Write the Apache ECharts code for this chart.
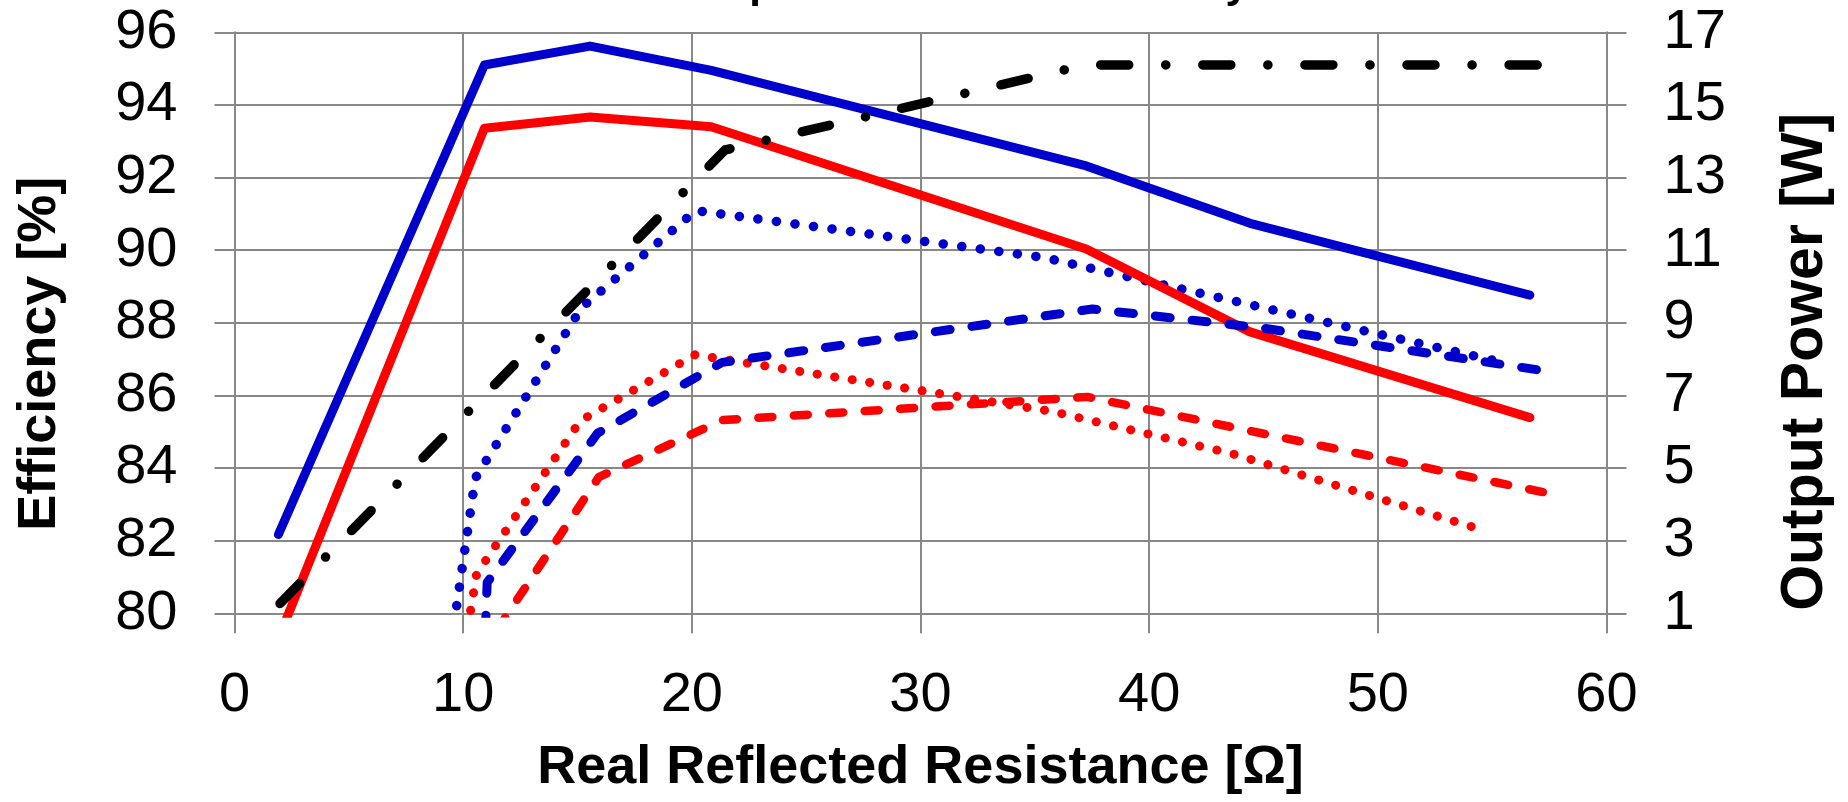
<!DOCTYPE html>
<html>
<head>
<meta charset="utf-8">
<script src="https://cdn.jsdelivr.net/npm/echarts@6/dist/echarts.min.js"></script>
<style>
  html, body { margin: 0; padding: 0; background: #fff; }
  #chart { width: 1848px; height: 802px; }
</style>
</head>
<body>
<div id="chart"></div>
<script>
// ---- data (x = Real Reflected Resistance [Ω], y = Efficiency [%] or Output Power [W]) ----
const blueSolid  = [[1.92, 82.17], [10.93, 95.10], [15.55, 95.62], [20.85, 94.95], [37.25, 92.32], [44.41, 90.74], [56.65, 88.76]];
const redSolid   = [[1.92, 79.30], [10.93, 93.36], [15.55, 93.67], [20.85, 93.40], [37.25, 90.03], [44.41, 87.75], [56.65, 85.39]];
const blueDotted = [[9.60, 79.70], [10.53, 83.72], [15.18, 88.42], [20.17, 91.09], [35.38, 89.80], [55.03, 86.97]];
const redDotted  = [[10.20, 79.60], [10.59, 81.09], [15.12, 85.30], [20.14, 87.12], [35.75, 85.56], [43.60, 84.40], [54.35, 82.34]];
const blueDashed = [[10.85, 77.50], [11.05, 80.85], [15.88, 84.96], [21.33, 86.91], [37.52, 88.38], [44.90, 87.86], [57.88, 86.62]];
const redDashed  = [[11.50, 79.56], [15.93, 83.75], [21.33, 85.32], [37.30, 85.96], [57.88, 83.25]];
const outputPower = [[1.99, 1.27], [21.45, 13.76], [37.20, 16.10], [57.40, 16.10]];

const rightTicks = [1, 3, 5, 7, 9, 11, 13, 15, 17];

const titleText = 'Output Power and Efficiency';
const xName = 'Real Reflected Resistance [Ω]';
const yLeftName = 'Efficiency [%]';
const yRightName = 'Output Power [W]';

// ---- styles ----
const FONT = 'Liberation Sans, Arial, sans-serif';
const GRID = '#888888';
const BLUE = '#0000CC';
const RED = '#FF0000';

const chart = echarts.init(document.getElementById('chart'), null, { renderer: 'canvas' });

function lineSeries(name, data, color, width, dash, yAxisIndex) {
  return {
    name: name,
    type: 'line',
    data: data,
    yAxisIndex: yAxisIndex || 0,
    showSymbol: false,
    symbol: 'none',
    smooth: false,
    clip: true,
    lineStyle: { color: color, width: width, type: dash, cap: 'round', join: 'round' },
    emphasis: { disabled: true }
  };
}

const axisLineStyle = { color: GRID, width: 2 };

chart.setOption({
  animation: false,
  backgroundColor: '#ffffff',
  title: {
    text: titleText,
    left: 677,
    top: -36,
    padding: 0,
    textStyle: { fontFamily: FONT, fontSize: 42, fontWeight: 'bold', color: '#000' }
  },
  grid: { left: 234.5, right: 241.5, top: 32.3, bottom: 188.7, containLabel: false },
  xAxis: {
    type: 'value',
    min: 0, max: 60, interval: 10,
    axisLine: { show: true, lineStyle: axisLineStyle },
    axisTick: { show: true, inside: false, length: 20, lineStyle: axisLineStyle },
    splitLine: { show: true, lineStyle: axisLineStyle },
    axisLabel: { fontFamily: FONT, fontSize: 56, color: '#000', margin: 54 },
    name: xName,
    nameLocation: 'middle',
    nameGap: 128,
    nameTextStyle: { fontFamily: FONT, fontSize: 54, fontWeight: 'bold', color: '#000' }
  },
  yAxis: [
    {
      type: 'value',
      position: 'left',
      min: 80, max: 96, interval: 2,
      axisLine: { show: true, lineStyle: axisLineStyle },
      axisTick: { show: true, inside: false, length: 20, lineStyle: axisLineStyle },
      splitLine: { show: true, lineStyle: axisLineStyle },
      axisLabel: { fontFamily: FONT, fontSize: 56, color: '#000', margin: 57 },
      name: yLeftName,
      nameLocation: 'middle',
      nameRotate: 90,
      nameGap: 167,
      nameTextStyle: { fontFamily: FONT, fontSize: 54, fontWeight: 'bold', color: '#000', padding: [0, 62, 0, 0] }
    },
    {
      type: 'value',
      position: 'right',
      min: 1, max: 17,
      axisLine: { show: true, lineStyle: axisLineStyle },
      axisTick: { show: true, inside: false, length: 20, lineStyle: axisLineStyle, customValues: rightTicks },
      splitLine: { show: false },
      axisLabel: { fontFamily: FONT, fontSize: 56, color: '#000', margin: 57, customValues: rightTicks },
      name: yRightName,
      nameLocation: 'middle',
      nameRotate: 90,
      nameGap: 170,
      nameTextStyle: { fontFamily: FONT, fontSize: 59, fontWeight: 'bold', color: '#000', padding: [0, 78, 0, 0] }
    }
  ],
  series: [
    lineSeries('Red dotted', redDotted, RED, 9, [0.1, 17.6]),
    lineSeries('Blue dotted', blueDotted, BLUE, 9.5, [0.1, 18.6]),
    lineSeries('Red dashed', redDashed, RED, 8.5, [14, 21.5]),
    lineSeries('Red solid', redSolid, RED, 9, 'solid'),
    lineSeries('Blue dashed', blueDashed, BLUE, 9, [15, 22]),
    lineSeries('Blue solid', blueSolid, BLUE, 9, 'solid'),
    lineSeries('Output power', outputPower, '#000000', 9.5, [28, 37, 0.1, 37], 1)
  ]
});
</script>
</body>
</html>
